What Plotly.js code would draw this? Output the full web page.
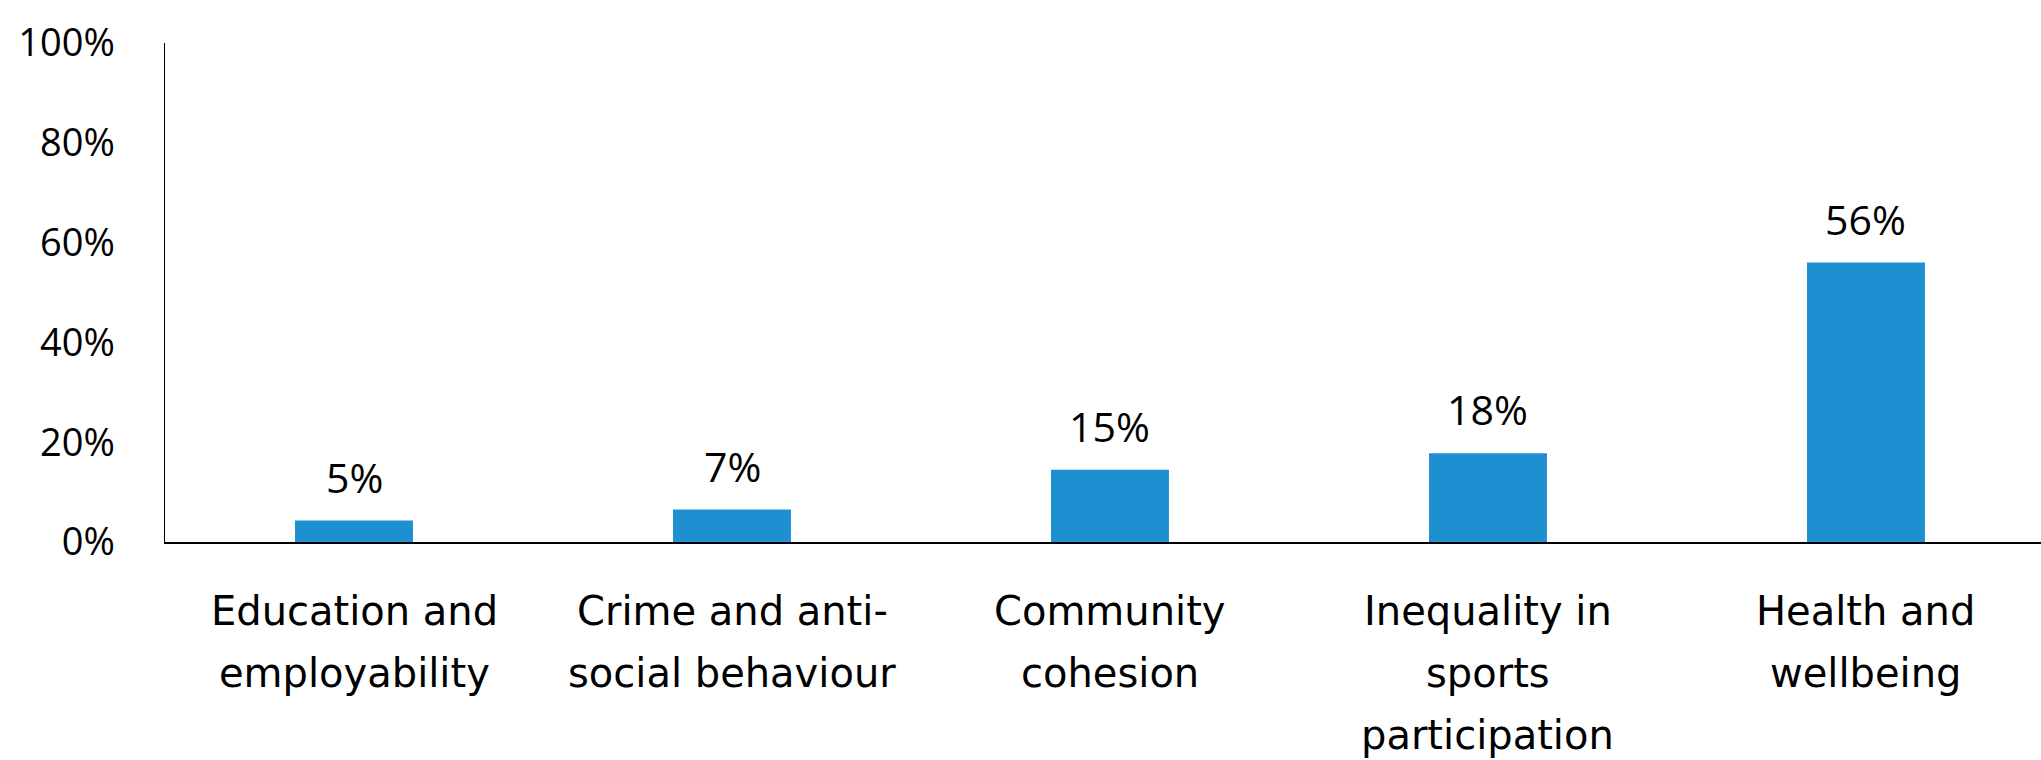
<!DOCTYPE html>
<html>
<head>
<meta charset="utf-8">
<script src="https://cdn.plot.ly/plotly-3.0.1.min.js"></script>
<style>
html,body{margin:0;padding:0;background:#fff;}
#chart{width:2041px;height:760px;}
</style>
</head>
<body>
<div id="chart"></div>
<script>
// Data
const categories = ["Education and employability", "Crime and anti-social behaviour", "Community cohesion", "Inequality in sports participation", "Health and wellbeing"];
const categoryLines = [
  ["Education and", "employability"],
  ["Crime and anti-", "social behaviour"],
  ["Community", "cohesion"],
  ["Inequality in", "sports", "participation"],
  ["Health and", "wellbeing"]
];
const values = [4.3, 6.5, 14.5, 17.8, 56.0];
const valueLabels = ["5%", "7%", "15%", "18%", "56%"];
const yTickVals = [0, 20, 40, 60, 80, 100];
const yTickText = ["0%", "20%", "40%", "60%", "80%", "100%"];

const NUMFONT = "Open Sans, Lato, sans-serif";
const CATFONT = "DejaVu Sans, Open Sans, sans-serif";
const NUMFS = 38;
const VALFS = 41;
const CATFS = 40;

const annotations = [];
values.forEach((v, i) => {
  annotations.push({
    x: categories[i], y: v, xref: "x", yref: "y",
    text: valueLabels[i], showarrow: false,
    yanchor: "bottom", yshift: 14,
    font: {family: NUMFONT, size: VALFS, color: "#000"}
  });
});
categoryLines.forEach((lines, i) => {
  lines.forEach((ln, j) => {
    annotations.push({
      x: categories[i], y: 0, xref: "x", yref: "paper",
      text: ln, showarrow: false,
      yanchor: "middle", yshift: -69 - j * 62,
      font: {family: CATFONT, size: CATFS, color: "#000"}
    });
  });
});

const trace = {
  type: "bar",
  x: categories,
  y: values,
  width: 0.312,
  marker: {color: "#1E8FD0"},
  hoverinfo: "none"
};

const layout = {
  width: 2041, height: 760,
  margin: {l: 165, r: 0, t: 43, b: 218, pad: 0},
  paper_bgcolor: "#fff", plot_bgcolor: "#fff",
  showlegend: false,
  font: {family: NUMFONT, size: NUMFS, color: "#000"},
  xaxis: {
    type: "category",
    range: [-0.5, 4.463],
    showticklabels: false,
    showline: true, linecolor: "#000", linewidth: 2,
    showgrid: false, zeroline: false, ticks: ""
  },
  yaxis: {
    range: [0, 100],
    tickvals: yTickVals, ticktext: yTickText,
    showline: true, linecolor: "#000", linewidth: 1.5,
    showgrid: false, zeroline: false, ticks: "",
    ticklabelstandoff: 41,
    tickfont: {family: NUMFONT, size: NUMFS, color: "#000"}
  },
  annotations: annotations
};

Plotly.newPlot("chart", [trace], layout, {displayModeBar: false, staticPlot: true});
</script>
</body>
</html>
